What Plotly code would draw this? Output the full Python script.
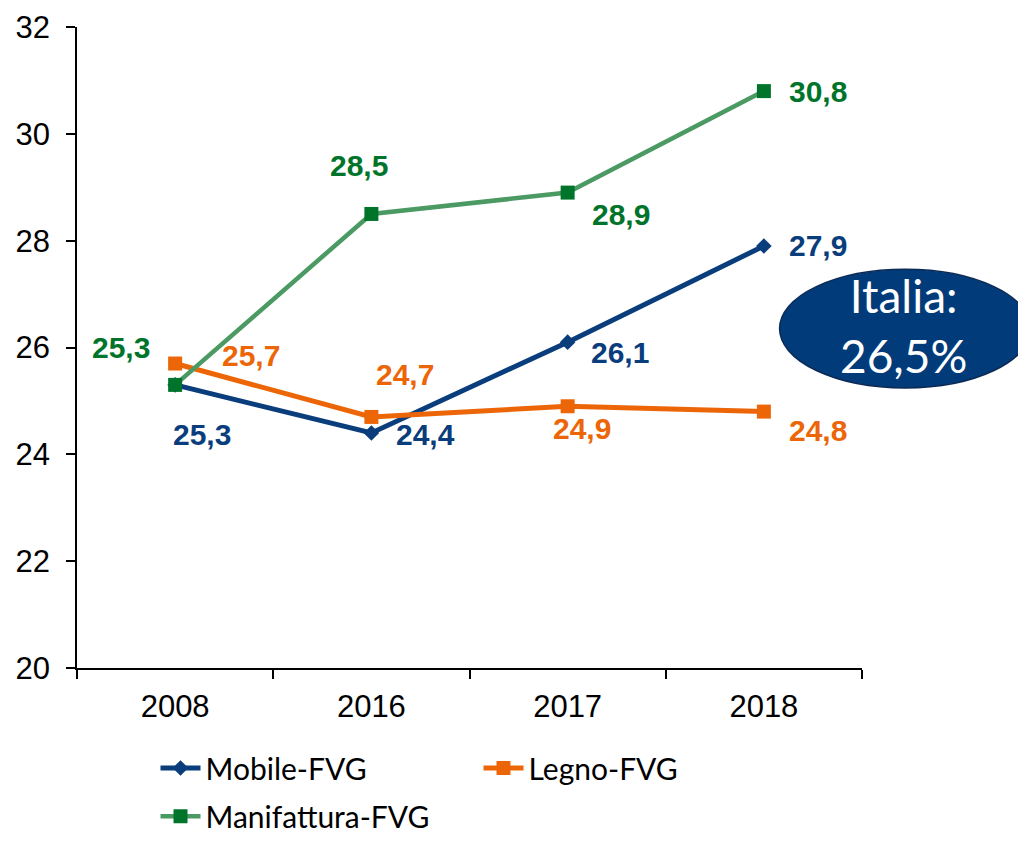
import plotly.graph_objects as go

years = ["2008", "2016", "2017", "2018"]
mobile = [25.3, 24.4, 26.1, 27.9]
legno = [25.7, 24.7, 24.9, 24.8]
manifattura = [25.3, 28.5, 28.9, 30.8]
y_ticks = [20, 22, 24, 26, 28, 30, 32]
italia_text = "Italia:<br>26,5%"

NAVY = "#0A3D7C"
ORANGE = "#EC6608"
GREEN_LINE = "#4C9A63"
GREEN_MARK = "#00742A"

series = [
    dict(name="Mobile-FVG", y=mobile, line=NAVY, marker=NAVY, symbol="diamond", msize=12,
         lw=5, label=NAVY, shifts=[(27, -50), (54, -2), (52, -10), (54, 1)], legend="legend"),
    dict(name="Legno-FVG", y=legno, line=ORANGE, marker=ORANGE, symbol="square", msize=14,
         lw=5, label=ORANGE, shifts=[(76, 8), (34, 42), (14, -22), (54, -19)], legend="legend"),
    dict(name="Manifattura-FVG", y=manifattura, line=GREEN_LINE, marker=GREEN_MARK, symbol="square",
         msize=14, lw=4.5, label=GREEN_MARK, shifts=[(-54, 37), (-12, 48), (53, -22), (54, 0)],
         legend="legend2"),
]

fig = go.Figure()
annotations = []
for s in series:
    fig.add_trace(go.Scatter(
        x=years, y=s["y"], name=s["name"], mode="lines+markers",
        line=dict(color=s["line"], width=s["lw"]),
        marker=dict(color=s["marker"], symbol=s["symbol"], size=s["msize"]),
        legend=s["legend"],
    ))
    for i, (yv, (dx, dy)) in enumerate(zip(s["y"], s["shifts"])):
        annotations.append(dict(
            x=i, y=yv, xref="x", yref="y", text=f"{yv:.1f}".replace(".", ","),
            showarrow=False, xshift=dx, yshift=dy, xanchor="center", yanchor="middle",
            font=dict(family="Liberation Sans, Arial", size=30, color=s["label"], weight="bold"),
        ))

annotations.append(dict(
    x=1.0535, y=0.535, xref="paper", yref="paper", text=italia_text, showarrow=False,
    xanchor="center", yanchor="middle",
    font=dict(family="Lato, Noto Sans", size=46, color="white"), align="center",
))

fig.update_layout(
    width=1018, height=836,
    margin=dict(l=69, r=164, t=19, b=176, autoexpand=False),
    paper_bgcolor="white", plot_bgcolor="white",
    showlegend=True,
    annotations=annotations,
    shapes=[dict(type="circle", xref="paper", yref="paper", x0=0.895, x1=1.215, y0=0.437, y1=0.622,
                 fillcolor="#023B7A", line=dict(color="#0B2A55", width=1.5), layer="above")],
    xaxis=dict(
        type="category", range=[-0.5, 3.5], showline=True, linecolor="black", linewidth=1.5,
        ticks="outside", tickson="boundaries", ticklen=9, tickcolor="black", tickwidth=1.5,
        showgrid=False, zeroline=False,
        tickfont=dict(family="Liberation Sans, Arial", size=31, color="black"),
        ticklabelstandoff=10,
    ),
    yaxis=dict(
        range=[20, 32], tickvals=y_ticks, showline=True, linecolor="black", linewidth=1.5,
        ticks="outside", ticklen=9, tickcolor="black", tickwidth=1.5,
        showgrid=False, zeroline=False,
        tickfont=dict(family="Liberation Sans, Arial", size=31, color="black"),
        ticklabelstandoff=10,
    ),
    legend=dict(
        orientation="h", x=0.1, y=-0.156, xanchor="left", yanchor="middle",
        font=dict(family="Lato, Noto Sans", size=30, color="black"),
        entrywidth=268, entrywidthmode="pixels", itemwidth=40, bgcolor="rgba(0,0,0,0)",
    ),
    legend2=dict(
        orientation="h", x=0.1, y=-0.272, xanchor="left", yanchor="bottom",
        font=dict(family="Lato, Noto Sans", size=30, color="black"),
        itemwidth=40, bgcolor="rgba(0,0,0,0)",
    ),
)

fig.write_html("out.html")
